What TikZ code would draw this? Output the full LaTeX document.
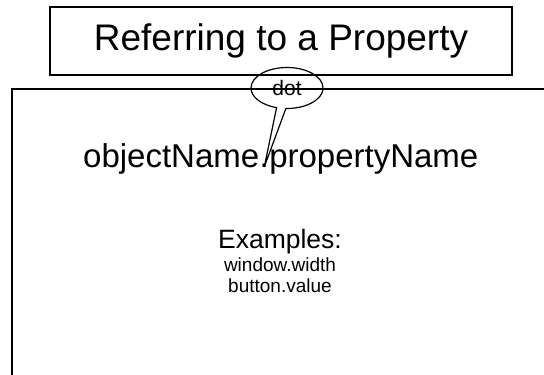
\documentclass[tikz,border=0pt]{standalone}
\usepackage{fontspec}
\setmainfont{Liberation Sans}
\usetikzlibrary{positioning, shapes.callouts}

\begin{document}
\begin{tikzpicture}[
  x=1pt, y=-1pt,
  titlebox/.style={draw, line width=1.5pt, minimum width=462pt,
                   minimum height=68pt, font=\fontsize{37}{42}\selectfont},
  panel/.style={draw, line width=1.8pt, minimum width=600pt,
                minimum height=320pt, anchor=north west},
  expr/.style={inner sep=0pt, font=\fontsize{33}{38}\selectfont},
  bubble/.style={ellipse callout, draw, line width=1.2pt, inner sep=0pt,
                 minimum width=72pt, minimum height=41pt,
                 font=\fontsize{21}{24}\selectfont},
  small/.style={inner sep=0pt, anchor=base, font=\fontsize{19}{22}\selectfont},
]
\useasboundingbox (0,0) rectangle (544,375);
\clip (0,0) rectangle (544,375);

\node[titlebox] (title) at (281,41) {Referring to a Property};
\node[panel] (panel) at (11,88) {};

% the expression, split so the bubble can point at the dot
\node[expr, anchor=base west] (obj) at (83,167) {objectName};
\node[expr, base right=0pt of obj] (dotmark) {.};
\node[expr, base right=0pt of dotmark] (prop) {propertyName};

\node[bubble, callout absolute pointer={(dotmark.base)}] (dot) at (287,88) {dot};

\node[inner sep=0pt, anchor=base, font=\fontsize{26.5}{30}\selectfont] (ex) at (280,248) {Examples:};
\node[small] (ex1) at (280,271) {window.width};
\node[small] (ex2) at (280,292) {button.value};
\end{tikzpicture}
\end{document}
